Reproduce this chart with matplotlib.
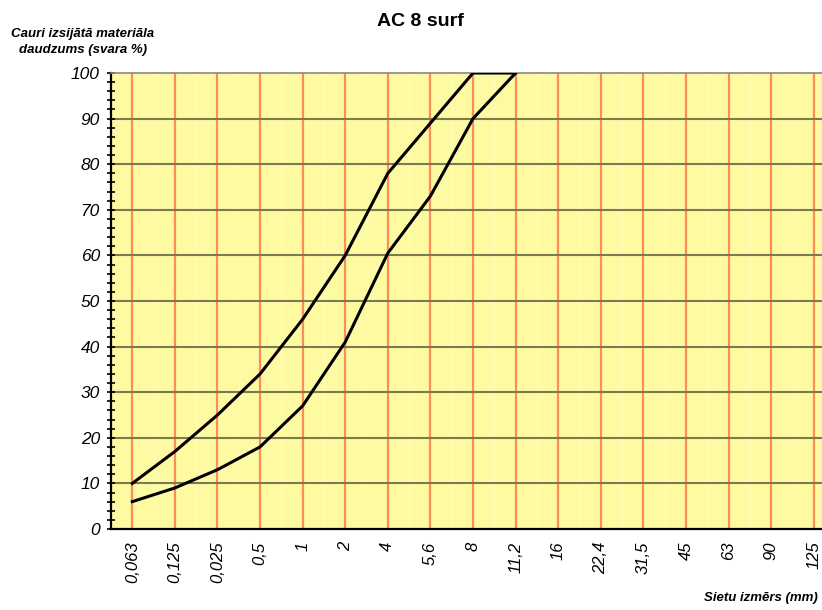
import matplotlib.pyplot as plt
import numpy as np

plt.rcParams['font.family'] = ['Liberation Sans', 'DejaVu Sans']

sieves = ['0,063', '0,125', '0,025', '0,5', '1', '2', '4', '5,6', '8', '11,2',
          '16', '22,4', '31,5', '45', '63', '90', '125']
upper = [10, 17, 25, 34, 46, 60, 78, 89, 100, 100]
lower = [6, 9, 13, 18, 27, 41, 60.5, 73, 90, 100]

fig = plt.figure(figsize=(8.22, 6.1), dpi=100)
ax = fig.add_axes([111 / 822, 81 / 610, 724 / 822, 456 / 610])
ax.set_facecolor('#fefaa2')

x = np.arange(len(sieves))
# faint stripes between the sieve lines
for xm in x[:-1] + 0.5:
    ax.axvline(xm, color='#fffbb4', lw=1.0, zorder=0.5)
for xv in x:
    ax.axvline(xv, color='#ff8a5c', lw=1.6, zorder=1)
for yv in range(10, 100, 10):
    ax.axhline(yv, color='#7c7a52', lw=1.5, zorder=1)

ax.plot(x[:len(upper)], upper, color='black', lw=2.2, zorder=3)
ax.plot(x[:len(lower)], lower, color='black', lw=2.2, zorder=3)

ax.set_xlim(-0.5, len(sieves) - 0.5)
ax.set_ylim(0, 100)
ax.set_xticks(x)
ax.set_xticklabels(sieves, rotation=90, style='italic', fontsize=12)
ax.set_yticks(range(0, 101, 10))
ax.set_yticklabels([str(v) for v in range(0, 101, 10)], style='italic', fontsize=12.5)
ax.set_yticks(range(0, 101, 2), minor=True)
ax.tick_params(axis='x', length=0, pad=9)
ax.tick_params(axis='y', which='both', direction='inout', length=6, width=1.2, pad=5)

for s in ['left', 'bottom']:
    ax.spines[s].set_linewidth(1.6)
    ax.spines[s].set_color('black')
ax.spines['top'].set_color('#888888')
ax.spines['top'].set_linewidth(1.2)
ax.spines['right'].set_visible(False)

fig.text(420 / 822, 1 - 21 / 610, 'AC 8 surf', ha='center', va='center',
         fontsize=14, fontweight='bold')
fig.text(83 / 822, 1 - 42 / 610, 'Cauri izsijātā materiāla\ndaudzums (svara %)',
         ha='center', va='center', fontsize=9.5, fontweight='bold', style='italic',
         linespacing=1.45)
fig.text(818 / 822, 1 - 604 / 610, 'Sietu izmērs (mm)', ha='right', va='bottom',
         fontsize=9.5, fontweight='bold', style='italic')

plt.savefig('out.png', dpi=100)
